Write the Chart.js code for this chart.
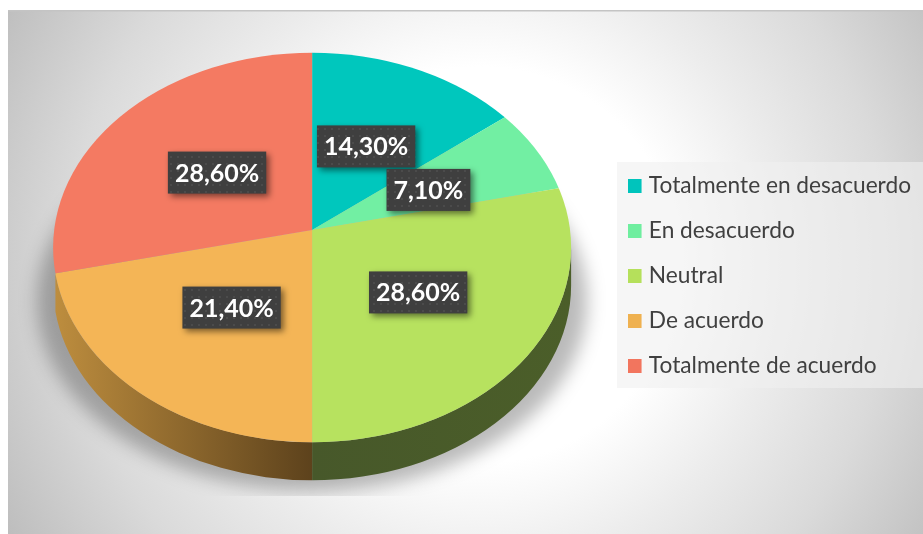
<!DOCTYPE html>
<html lang="en">
<head>
<meta charset="UTF-8" />
<title>Pie</title>
<script src="https://cdn.jsdelivr.net/npm/chart.js"></script>
<style>
html, body { margin: 0; padding: 0; background: #fff; }
#wrap { width: 923px; height: 534px; }
</style>
</head>
<body>
<div id="wrap"><canvas id="pie" width="923" height="534"></canvas></div>
<script>
const categories = ["Totalmente en desacuerdo", "En desacuerdo", "Neutral", "De acuerdo", "Totalmente de acuerdo"];
const values = [14.3, 7.1, 28.6, 21.4, 28.6];
const valueLabels = ["14,30%", "7,10%", "28,60%", "21,40%", "28,60%"];

const sliceColors = ["#00c7bd", "#72efa3", "#b7e25f", "#f4b556", "#f47a62"];
const legendColors = ["#00c4bc", "#6fee9f", "#b5e05b", "#efb150", "#f2755e"];
// only the front slices show a wall
const wallLeft = [null, null, "#47582a", "#bd8d3e", null];
const wallRight = [null, null, "#4b5e29", "#5d421c", null];
// label position: fixed share of radius along the slice middle, then a shift in px
const labelReach = 0.4;
const labelShift = [[9, -15], [23, -7], [25, 15], [-16, 18], [-14, -10]];

// the picture is in perspective: wedges meet above the middle of the rim ellipse
const tilt = 0.735;
const rimHeight = 0.752;
const rimDrop = 17.5;
const depth = 38;
const pieLift = 45;

function swatch(color) {
    const s = document.createElement("canvas");
    s.width = 18;
    s.height = 14;
    const x = s.getContext("2d");
    x.fillStyle = color;
    x.fillRect(0, 0, 14, 14);
    return s;
}

function bgPlugin(chart) {
    const c = chart.ctx;
    c.save();
    const g = c.createRadialGradient(480, 265, 0, 480, 265, 550);
    g.addColorStop(0, "#ffffff");
    g.addColorStop(0.36, "#ffffff");
    g.addColorStop(0.55, "#ececec");
    g.addColorStop(0.75, "#dadada");
    g.addColorStop(1, "#bcbcbc");
    c.fillStyle = g;
    c.fillRect(8, 11, 915, 523);
    c.fillStyle = "#c4c4c4";
    c.fillRect(8, 10, 915, 1.5);
    c.fillStyle = "rgba(240,240,240,0.6)";
    c.fillRect(617, 162, 306, 226);
    c.restore();
}

function rim(chart) {
    const a = chart.getDatasetMeta(0).data[0];
    const apexY = a.y - pieLift;
    return { x: a.x, apexY, y: apexY + rimDrop, rx: a.outerRadius, ry: a.outerRadius * rimHeight };
}

// where a wedge edge leaving the apex hits the rim, as an ellipse angle
function rimAngle(p, angle) {
    const dx = Math.cos(angle) / p.rx, dy = Math.sin(angle) * tilt / p.ry;
    const oy = -rimDrop / p.ry;
    const A = dx * dx + dy * dy, B = 2 * oy * dy, C = oy * oy - 1;
    const t = (-B + Math.sqrt(B * B - 4 * A * C)) / (2 * A);
    return Math.atan2(oy + t * dy, t * dx);
}

const piePlugin = {
    id: "pie3d",
    beforeDraw: bgPlugin,
    beforeDatasetsDraw(chart) {
        const c = chart.ctx, p = rim(chart), a = chart.getDatasetMeta(0).data[0];
        // floor shadow
        c.save();
        c.beginPath();
        c.rect(8, 11, 620, 485);
        c.clip();
        c.filter = "blur(9px)";
        c.fillStyle = "rgba(0,0,0,0.27)";
        c.beginPath();
        c.ellipse(p.x, p.apexY + 71, p.rx + 16, 190, 0, 0, Math.PI * 2);
        c.fill();
        c.restore();
        // side wall of the disc
        chart.getDatasetMeta(0).data.forEach((arc, i) => {
            if (!wallLeft[i]) return;
            let a0 = rimAngle(p, arc.startAngle), a1 = rimAngle(p, arc.endAngle);
            if (a1 < a0) a1 += Math.PI * 2;
            a0 = Math.max(a0, 0);
            a1 = Math.min(a1, Math.PI);
            if (a1 <= a0) return;
            const g = c.createLinearGradient(p.x + p.rx * Math.cos(a1), 0, p.x + p.rx * Math.cos(a0), 0);
            g.addColorStop(0, wallLeft[i]);
            g.addColorStop(1, wallRight[i]);
            c.fillStyle = g;
            c.beginPath();
            c.ellipse(p.x, p.y + depth, p.rx, p.ry, 0, a0, a1);
            c.ellipse(p.x, p.y, p.rx, p.ry, 0, a1, a0, true);
            c.closePath();
            c.fill();
        });
        // top face: the library's arcs, oversized about the apex and cut by the rim
        c.save();
        c.beginPath();
        c.ellipse(p.x, p.y, p.rx, p.ry, 0, 0, Math.PI * 2);
        c.clip();
        c.translate(p.x, p.apexY);
        c.scale(1.16, 1.16 * tilt);
        c.translate(-a.x, -a.y);
    },
    afterDatasetsDraw(chart) {
        const c = chart.ctx;
        c.restore();
        const p = rim(chart);
        const dots = document.createElement("canvas");
        dots.width = dots.height = 7;
        const d = dots.getContext("2d");
        d.fillStyle = "#3f3f3f";
        d.fillRect(0, 0, 7, 7);
        d.fillStyle = "#4b4b4b";
        d.fillRect(2, 2, 2, 2);
        const pat = c.createPattern(dots, "repeat");
        chart.getDatasetMeta(0).data.forEach((arc, i) => {
            const mid = (arc.startAngle + arc.endAngle) / 2;
            const x = p.x + Math.cos(mid) * p.rx * labelReach + labelShift[i][0];
            const y = p.apexY + Math.sin(mid) * p.rx * tilt * labelReach + labelShift[i][1];
            c.save();
            c.font = "bold 25px Lato, sans-serif";
            const w = c.measureText(valueLabels[i]).width + 14, h = 42;
            c.shadowColor = "rgba(0,0,0,0.5)";
            c.shadowBlur = 6;
            c.shadowOffsetX = 3;
            c.shadowOffsetY = 3;
            c.fillStyle = pat;
            c.fillRect(x - w / 2, y - h / 2, w, h);
            c.shadowColor = "transparent";
            c.fillStyle = "#fff";
            c.textAlign = "center";
            c.textBaseline = "middle";
            c.fillText(valueLabels[i], x, y + 1);
            c.restore();
        });
    }
};

new Chart(document.getElementById("pie"), {
    type: "pie",
    data: {
        labels: categories,
        datasets: [{ data: values, backgroundColor: sliceColors, borderWidth: 0 }]
    },
    options: {
        responsive: false,
        animation: false,
        layout: { padding: { top: 16, bottom: -2, left: 11, right: 2 } },
        plugins: {
            tooltip: { enabled: false },
            legend: {
                position: "right",
                labels: {
                    usePointStyle: true,
                    pointStyleWidth: 2,
                    boxHeight: 14,
                    padding: 22.3,
                    color: "#404040",
                    font: { family: "Lato, sans-serif", size: 22.7 },
                    generateLabels: () => categories.map((text, i) => ({
                        text,
                        index: i,
                        fontColor: "#404040",
                        fillStyle: legendColors[i],
                        strokeStyle: legendColors[i],
                        lineWidth: 0,
                        pointStyle: swatch(legendColors[i])
                    }))
                }
            }
        }
    },
    plugins: [piePlugin]
});
</script>
</body>
</html>
